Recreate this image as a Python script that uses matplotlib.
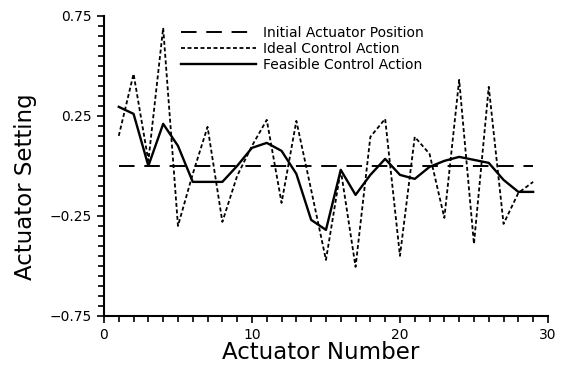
import matplotlib
matplotlib.use("Agg")
import matplotlib.pyplot as plt
from matplotlib.ticker import MultipleLocator

# Actuator index and settings
actuators = list(range(1, 30))
initial_position = [0.0] * len(actuators)
ideal_action = [0.15, 0.46, 0.025, 0.69, -0.30, -0.04, 0.195, -0.28, -0.05, 0.10,
                0.23, -0.185, 0.225, -0.12, -0.47, -0.02, -0.505, 0.145, 0.235, -0.45,
                0.145, 0.06, -0.26, 0.43, -0.39, 0.395, -0.29, -0.135, -0.08]
feasible_action = [0.295, 0.26, 0.0, 0.21, 0.10, -0.08, -0.08, -0.08, 0.0, 0.09,
                   0.115, 0.075, -0.04, -0.27, -0.32, -0.02, -0.145, -0.045, 0.035, -0.045,
                   -0.065, -0.005, 0.025, 0.045, 0.03, 0.015, -0.07, -0.13, -0.13]

x_ticks = [0, 10, 20, 30]
y_ticks = [0.75, 0.25, -0.25, -0.75]
y_tick_labels = ["0.75", "0.25", "\u22120.25", "\u22120.75"]

plt.rcParams["font.family"] = ["DejaVu Sans"]

fig = plt.figure(figsize=(5.62, 3.77), dpi=100)
ax = fig.add_axes([0.185, 0.162, 0.79, 0.796])

ax.plot(actuators, initial_position, color="black", lw=1.4,
        dashes=(8, 5), label="Initial Actuator Position")
ax.plot(actuators, ideal_action, color="black", lw=1.3,
        dashes=(2.2, 1.4), label="Ideal Control Action")
ax.plot(actuators, feasible_action, color="black", lw=1.7,
        label="Feasible Control Action")

ax.set_xlim(0, 30)
ax.set_ylim(-0.75, 0.75)
ax.set_xticks(x_ticks)
ax.set_yticks(y_ticks)
ax.set_yticklabels(y_tick_labels)
ax.xaxis.set_minor_locator(MultipleLocator(1))
ax.yaxis.set_minor_locator(MultipleLocator(0.05))
ax.tick_params(axis="both", which="both", direction="out", length=4,
               width=1.2, labelsize=10, colors="black")
ax.tick_params(axis="both", which="major", length=5)

for side in ("top", "right"):
    ax.spines[side].set_visible(False)
for side in ("left", "bottom"):
    ax.spines[side].set_linewidth(1.5)

ax.set_xlabel("Actuator Number", fontsize=16.5)
ax.set_ylabel("Actuator Setting", fontsize=16.5)
ax.xaxis.set_label_coords(0.487, -0.085)
ax.yaxis.set_label_coords(-0.15, 0.43)

ax.legend(loc="upper left", bbox_to_anchor=(0.16, 0.985), frameon=False,
          fontsize=10, handlelength=5.4, handletextpad=0.55,
          labelspacing=0.15, borderaxespad=0)

fig.savefig("out.png", dpi=100)
